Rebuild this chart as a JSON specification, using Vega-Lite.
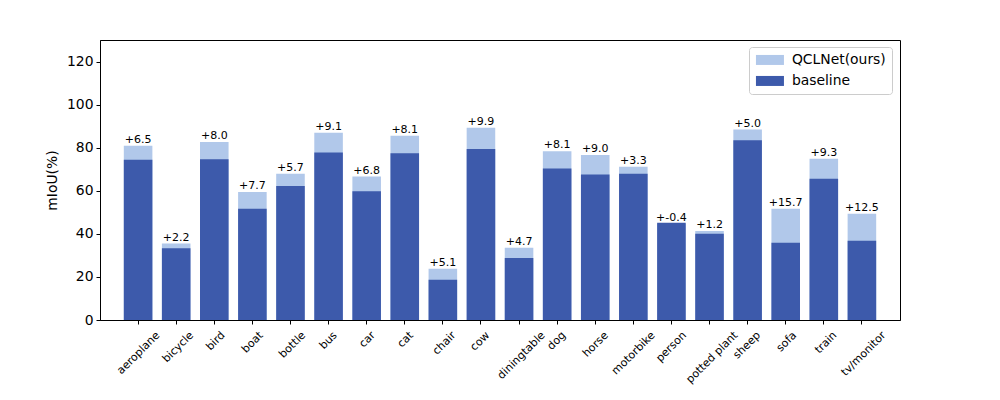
{
  "$schema": "https://vega.github.io/schema/vega-lite/v6.json",
  "width": 800,
  "height": 280,
  "autosize": {"type": "none"},
  "padding": {"left": 100, "top": 40, "right": 100, "bottom": 80},
  "background": "white",
  "data": {
    "values": [
      {"category": "aeroplane", "baseline": 74.4, "ours": 80.9, "gain": "+6.5"},
      {"category": "bicycle", "baseline": 33.3, "ours": 35.5, "gain": "+2.2"},
      {"category": "bird", "baseline": 74.6, "ours": 82.6, "gain": "+8.0"},
      {"category": "boat", "baseline": 51.7, "ours": 59.4, "gain": "+7.7"},
      {"category": "bottle", "baseline": 62.2, "ours": 67.9, "gain": "+5.7"},
      {"category": "bus", "baseline": 77.8, "ours": 86.9, "gain": "+9.1"},
      {"category": "car", "baseline": 59.8, "ours": 66.6, "gain": "+6.8"},
      {"category": "cat", "baseline": 77.4, "ours": 85.5, "gain": "+8.1"},
      {"category": "chair", "baseline": 18.7, "ours": 23.8, "gain": "+5.1"},
      {"category": "cow", "baseline": 79.4, "ours": 89.3, "gain": "+9.9"},
      {"category": "diningtable", "baseline": 28.8, "ours": 33.5, "gain": "+4.7"},
      {"category": "dog", "baseline": 70.3, "ours": 78.4, "gain": "+8.1"},
      {"category": "horse", "baseline": 67.6, "ours": 76.6, "gain": "+9.0"},
      {"category": "motorbike", "baseline": 67.9, "ours": 71.2, "gain": "+3.3"},
      {"category": "person", "baseline": 45.1, "ours": 44.7, "gain": "+-0.4"},
      {"category": "potted plant", "baseline": 40.1, "ours": 41.3, "gain": "+1.2"},
      {"category": "sheep", "baseline": 83.4, "ours": 88.4, "gain": "+5.0"},
      {"category": "sofa", "baseline": 35.9, "ours": 51.6, "gain": "+15.7"},
      {"category": "train", "baseline": 65.6, "ours": 74.9, "gain": "+9.3"},
      {"category": "tv/monitor", "baseline": 36.8, "ours": 49.3, "gain": "+12.5"}
    ]
  },
  "encoding": {
    "x": {
      "field": "category",
      "type": "nominal",
      "sort": null,
      "scale": {"paddingInner": 0.25, "paddingOuter": 0.625},
      "axis": {
        "title": null,
        "labelAngle": -45,
        "labelAlign": "right",
        "labelBaseline": "top",
        "labelFontSize": 11,
        "labelPadding": 5,
        "labelOffset": {"expr": "(length(datum.label) * 6.2 - 11) * 0.3535"},
        "tickSize": 4
      }
    }
  },
  "layer": [
    {
      "mark": {"type": "bar"},
      "encoding": {
        "y": {
          "field": "ours",
          "type": "quantitative",
          "title": "mIoU(%)",
          "scale": {"domain": [0, 130], "nice": false, "zero": true},
          "axis": {"values": [0, 20, 40, 60, 80, 100, 120], "grid": false}
        },
        "color": {
          "datum": "QCLNet(ours)",
          "type": "nominal",
          "scale": {"domain": ["QCLNet(ours)", "baseline"], "range": ["#b1c8ea", "#3d5aab"]},
          "legend": {
            "title": null,
            "orient": "none",
            "legendX": 649,
            "legendY": 7,
            "padding": 6,
            "strokeColor": "#cccccc",
            "fillColor": "white",
            "cornerRadius": 3,
            "symbolType": "M-2.8,-1H2.8V1H-2.8Z",
            "symbolSize": 100,
            "symbolOffset": 8,
            "symbolStrokeWidth": 0,
            "symbolOpacity": 1,
            "labelFontSize": 13.9,
            "labelOffset": 15,
            "rowPadding": 6
          }
        }
      }
    },
    {
      "mark": {"type": "bar"},
      "encoding": {
        "y": {"field": "baseline", "type": "quantitative", "title": "mIoU(%)"},
        "color": {"datum": "baseline", "type": "nominal"}
      }
    },
    {
      "mark": {"type": "text", "baseline": "bottom", "dy": -1, "fontSize": 11, "color": "black"},
      "encoding": {
        "y": {"field": "ours", "type": "quantitative", "title": "mIoU(%)"},
        "text": {"field": "gain"}
      }
    }
  ],
  "config": {
    "font": "DejaVu Sans",
    "view": {"stroke": "black", "strokeWidth": 1},
    "axis": {
      "domainColor": "black",
      "tickColor": "black",
      "labelColor": "black",
      "titleColor": "black",
      "labelFont": "DejaVu Sans",
      "titleFont": "DejaVu Sans"
    },
    "axisY": {
      "labelFontSize": 13.9,
      "tickSize": 4,
      "labelPadding": 3,
      "titleFontSize": 13.9,
      "titleFontWeight": "normal",
      "titlePadding": 7
    },
    "legend": {"labelFont": "DejaVu Sans", "labelColor": "black"}
  }
}
